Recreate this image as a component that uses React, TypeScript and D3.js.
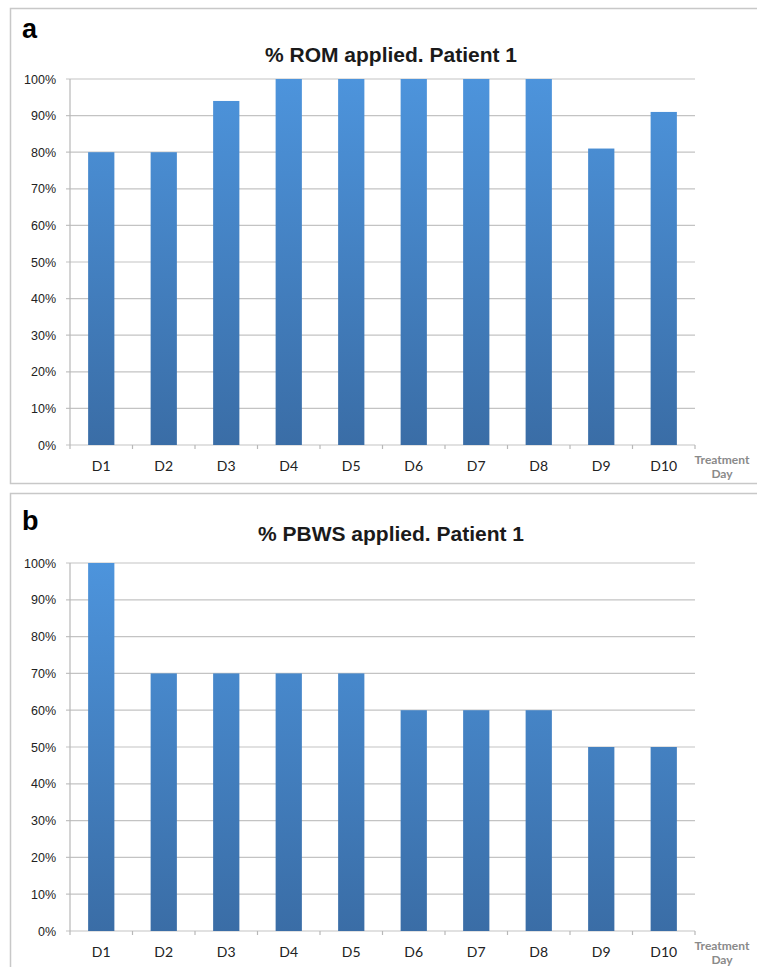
import React from 'react';
import * as d3 from 'd3';

const days = ['D1', 'D2', 'D3', 'D4', 'D5', 'D6', 'D7', 'D8', 'D9', 'D10'];
const romValues = [80, 80, 94, 100, 100, 100, 100, 100, 81, 91];
const pbwsValues = [100, 70, 70, 70, 70, 60, 60, 60, 50, 50];
const yTicks = [0, 10, 20, 30, 40, 50, 60, 70, 80, 90, 100];

interface PanelProps {
  letter: string;
  title: string;
  values: number[];
  top: number;
  boxHeight: number;
  plotTop: number;
  plotBottom: number;
  titleY: number;
  letterY: number;
}

const left = 70;
const right = 695;

const Panel: React.FC<PanelProps> = ({ letter, title, values, top, boxHeight, plotTop, plotBottom, titleY, letterY }) => {
  const x = d3.scaleBand<string>().domain(days).range([left, right]).paddingInner(0.58).paddingOuter(0.29);
  const band = d3.scaleBand<string>().domain(days).range([left, right]);
  const y = d3.scaleLinear().domain([0, 100]).range([plotBottom, plotTop]);
  const gid = 'grad-' + letter;

  return (
    <g>
      <defs>
        <linearGradient id={gid} x1="0" y1={plotTop} x2="0" y2={plotBottom} gradientUnits="userSpaceOnUse">
          <stop offset="0%" stopColor="#4d94dc" />
          <stop offset="100%" stopColor="#3a6da6" />
        </linearGradient>
      </defs>
      <rect x={10.5} y={top + 0.5} width={760} height={boxHeight} fill="#fff" stroke="#c8c8c8" strokeWidth={1.5} />
      <text x={22} y={letterY} fontFamily="Liberation Sans, Arial, sans-serif" fontWeight="bold" fontSize={27}>{letter}</text>
      <text x={391} y={titleY} textAnchor="middle" fontFamily="Liberation Sans, Arial, sans-serif" fontWeight="bold" fontSize={21} fill="#1a1a1a">{title}</text>
      {yTicks.map(t => (
        <g key={t}>
          <line x1={left - 4} x2={right} y1={y(t)} y2={y(t)} stroke="#c3c3c3" strokeWidth={1.2} />
          <text x={56} y={y(t) + 4.5} textAnchor="end" fontFamily="Liberation Sans, Arial, sans-serif" fontSize={12.5} fill="#222">{t}%</text>
        </g>
      ))}
      <line x1={left} x2={left} y1={plotTop} y2={plotBottom} stroke="#b8b8b8" strokeWidth={1.2} />
      {days.map(d => (
        <line key={'t' + d} x1={(band(d) as number) + band.bandwidth()} x2={(band(d) as number) + band.bandwidth()} y1={plotBottom} y2={plotBottom + 4} stroke="#b8b8b8" strokeWidth={1.2} />
      ))}
      <line x1={left} x2={left} y1={plotBottom} y2={plotBottom + 4} stroke="#b8b8b8" strokeWidth={1.2} />
      {values.map((v, i) => (
        <rect key={days[i]} x={x(days[i])} y={y(v)} width={x.bandwidth()} height={plotBottom - y(v)} fill={`url(#${gid})`} />
      ))}
      {days.map(d => (
        <text key={'l' + d} x={(band(d) as number) + band.bandwidth() / 2} y={plotBottom + 26} textAnchor="middle" fontFamily="Lato, Open Sans, sans-serif" fontSize={14} fill="#222">{d}</text>
      ))}
      <text x={722} y={plotBottom + 19} textAnchor="middle" fontFamily="Lato, Open Sans, sans-serif" fontWeight="bold" fontSize={12} fill="#8a8a8a">Treatment</text>
      <text x={722} y={plotBottom + 33} textAnchor="middle" fontFamily="Lato, Open Sans, sans-serif" fontWeight="bold" fontSize={12} fill="#8a8a8a">Day</text>
    </g>
  );
};

export default function App() {
  return (
    <svg width={757} height={967} style={{ position: 'absolute', top: 0, left: 0, background: '#fff' }}>
      <rect width={757} height={967} fill="#fff" />
      <Panel letter="a" title="% ROM applied. Patient 1" values={romValues} top={8} boxHeight={475} plotTop={79} plotBottom={445} titleY={62} letterY={38} />
      <Panel letter="b" title="% PBWS applied. Patient 1" values={pbwsValues} top={493} boxHeight={490} plotTop={563} plotBottom={931} titleY={541} letterY={530} />
    </svg>
  );
}
